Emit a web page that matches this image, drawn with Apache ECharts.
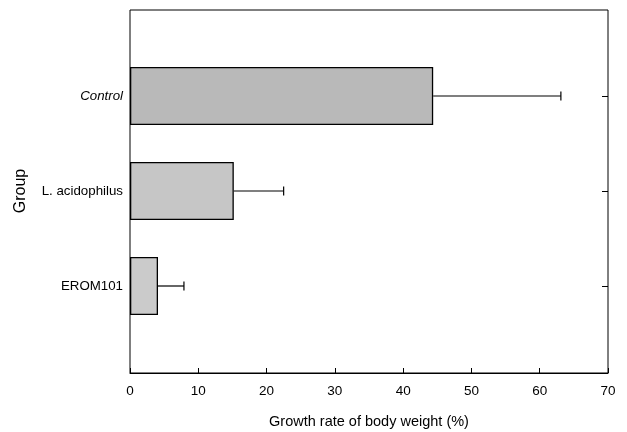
<!DOCTYPE html>
<html>
<head>
<meta charset="utf-8">
<script src="https://cdn.jsdelivr.net/npm/echarts@6/dist/echarts.min.js"></script>
<style>
  html,body{margin:0;padding:0;background:#fff;}
  #chart{width:627px;height:432px;}
</style>
</head>
<body>
<div id="chart"></div>
<script>
// 数据
const groups = ['Control', 'L. acidophilus', 'EROM101'];
const growthMean = [44.4, 15.2, 4.1];
const growthUpper = [63.1, 22.5, 7.9];
const xTicks = [0, 10, 20, 30, 40, 50, 60, 70];

const font = 'Liberation Sans, Arial, sans-serif';
const barColors = ['#b9b9b9', '#c6c6c6', '#cbcbcb'];

const chart = echarts.init(document.getElementById('chart'));

const option = {
    backgroundColor: '#fff',
    animation: false,
    textStyle: { fontFamily: font, color: '#000' },
    grid: [
        // 柱子所在的网格
        { left: 130, right: 19, top: 48.5, bottom: 98.5, outerBoundsMode: 'none' },
        // 外框 + x 轴
        { left: 130, right: 19, top: 10, bottom: 59, show: true, outerBoundsMode: 'none',
          borderColor: '#000', borderWidth: 1, backgroundColor: 'transparent' }
    ],
    xAxis: [
        { gridIndex: 0, type: 'value', min: 0, max: 70, show: false },
        {
            gridIndex: 1, type: 'value', min: xTicks[0], max: xTicks[xTicks.length - 1], interval: 10,
            name: 'Growth rate of body weight (%)',
            nameLocation: 'middle', nameGap: 41,
            nameTextStyle: { fontSize: 14.5, color: '#000', fontFamily: font },
            axisLine: { show: true, lineStyle: { color: '#000', width: 1 } },
            axisTick: { show: true, inside: true, length: 5, lineStyle: { color: '#000' } },
            axisLabel: { fontSize: 13.5, color: '#000', margin: 11, fontFamily: font },
            splitLine: { show: false }
        }
    ],
    yAxis: [
        {
            gridIndex: 0, type: 'category', data: groups, inverse: true,
            name: 'Group', nameLocation: 'middle', nameGap: 101,
            nameTextStyle: { fontSize: 16, color: '#000', fontFamily: font },
            axisLine: { show: false },
            axisTick: { show: false },
            axisLabel: {
                fontSize: 13.3, color: '#000', margin: 7, fontFamily: font,
                formatter: v => v === 'Control' ? '{i|' + v + '}' : v,
                rich: { i: { fontStyle: 'italic', fontSize: 13.3, fontFamily: font, color: '#000' } }
            }
        },
        {
            gridIndex: 0, type: 'category', data: groups, inverse: true, position: 'right',
            axisLine: { show: false },
            axisTick: { show: true, inside: true, length: 6, alignWithLabel: true, lineStyle: { color: '#000' } },
            axisLabel: { show: false }
        },
        { gridIndex: 1, type: 'value', show: false, min: 0, max: 1 }
    ],
    series: [
        {
            type: 'bar',
            xAxisIndex: 0, yAxisIndex: 0,
            data: growthMean.map((v, i) => ({ value: v, itemStyle: { color: barColors[i] } })),
            barWidth: 58,
            itemStyle: { borderColor: '#000', borderWidth: 1.3 }
        },
        {
            type: 'custom',
            xAxisIndex: 0, yAxisIndex: 0,
            data: growthMean.map((m, i) => [m, i, growthUpper[i]]),
            encode: { x: [0, 2], y: 1 },
            renderItem: function (params, api) {
                const start = api.coord([api.value(0), api.value(1)]);
                const end = api.coord([api.value(2), api.value(1)]);
                const cap = 4.5;
                const style = { stroke: '#000', lineWidth: 1.2 };
                return {
                    type: 'group',
                    children: [
                        { type: 'line', shape: { x1: start[0], y1: start[1], x2: end[0], y2: end[1] }, style: style },
                        { type: 'line', shape: { x1: end[0], y1: end[1] - cap, x2: end[0], y2: end[1] + cap }, style: style }
                    ]
                };
            },
            z: 3
        }
    ]
};

chart.setOption(option);
</script>
</body>
</html>
